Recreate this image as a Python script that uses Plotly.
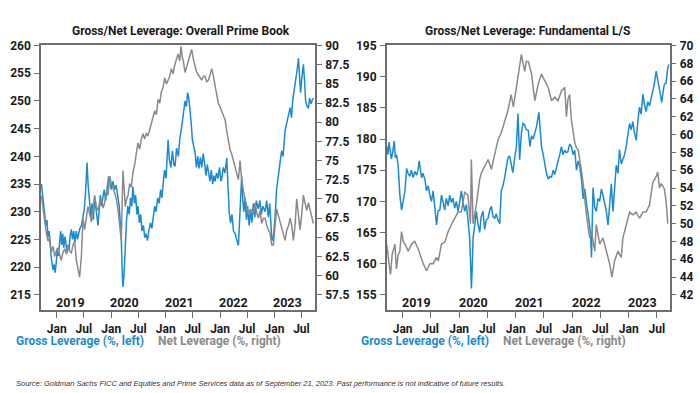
import plotly.graph_objects as go

# ---------------- DATA ----------------
# Left panel: Overall Prime Book
prime_gross_dates = [
    "2018-09-20","2018-09-28","2018-10-06","2018-10-12","2018-10-20","2018-10-27","2018-11-03","2018-11-10",
    "2018-11-17","2018-11-24","2018-12-01","2018-12-07","2018-12-14","2018-12-21","2018-12-29","2019-01-05",
    "2019-01-12","2019-01-20","2019-01-27","2019-02-03","2019-02-10","2019-02-17","2019-02-24","2019-03-03",
    "2019-03-10","2019-03-17","2019-03-24","2019-03-31","2019-04-09","2019-04-16","2019-04-25","2019-05-02",
    "2019-05-12","2019-05-20","2019-05-28","2019-06-05","2019-06-15","2019-06-25","2019-07-05","2019-07-13",
    "2019-07-23","2019-07-30","2019-08-10","2019-08-18","2019-08-25","2019-09-03","2019-09-12","2019-09-20",
    "2019-09-28","2019-10-05","2019-10-12","2019-10-20","2019-10-28","2019-11-05","2019-11-15","2019-11-25",
    "2019-12-05","2019-12-15","2019-12-24","2020-01-03","2020-01-12","2020-01-24","2020-02-03","2020-02-14",
    "2020-02-24","2020-03-02","2020-03-09","2020-03-14","2020-03-20","2020-03-27","2020-04-05","2020-04-13",
    "2020-04-22","2020-05-01","2020-05-10","2020-05-18","2020-05-26","2020-06-05","2020-06-13","2020-06-22",
    "2020-06-29","2020-07-08","2020-07-17","2020-07-26","2020-08-05","2020-08-13","2020-08-22","2020-09-01",
    "2020-09-10","2020-09-20","2020-09-30","2020-10-09","2020-10-19","2020-10-28","2020-11-08","2020-11-18",
    "2020-11-28","2020-12-06","2020-12-14","2020-12-24","2021-01-03","2021-01-10","2021-01-17","2021-01-25",
    "2021-02-05","2021-02-15","2021-02-25","2021-03-05","2021-03-15","2021-03-27","2021-04-05","2021-04-18",
    "2021-04-28","2021-05-11","2021-05-20","2021-05-28","2021-06-05","2021-06-13","2021-06-21","2021-06-29",
    "2021-07-08","2021-07-17","2021-07-26","2021-08-04","2021-08-12","2021-08-22","2021-08-31","2021-09-10",
    "2021-09-20","2021-09-28","2021-10-07","2021-10-15","2021-10-25","2021-11-03","2021-11-12","2021-11-20",
    "2021-11-28","2021-12-08","2021-12-18","2021-12-28","2022-01-06","2022-01-12","2022-01-22","2022-02-03",
    "2022-02-15","2022-02-24","2022-03-03","2022-03-12","2022-03-22","2022-04-01","2022-04-12","2022-04-22",
    "2022-05-04","2022-05-12","2022-05-20","2022-05-26","2022-06-03","2022-06-10","2022-06-18","2022-06-27",
    "2022-07-05","2022-07-15","2022-07-24","2022-08-02","2022-08-12","2022-08-22","2022-09-01","2022-09-15",
    "2022-09-25","2022-10-05","2022-10-15","2022-10-30","2022-11-10","2022-11-20","2022-11-30","2022-12-08",
    "2022-12-14","2022-12-22","2023-01-05","2023-01-15","2023-01-25","2023-02-08","2023-02-18","2023-02-28",
    "2023-03-13","2023-03-25","2023-04-05","2023-04-16","2023-04-25","2023-05-05","2023-05-19","2023-05-28",
    "2023-06-04","2023-06-11","2023-06-18","2023-06-25","2023-07-03","2023-07-14","2023-07-21","2023-07-29",
    "2023-08-08","2023-08-17","2023-08-25","2023-09-04","2023-09-13","2023-09-21",
]
prime_gross = [
    235.0,233.0,231.0,229.5,227.5,228.5,225.5,226.5,
    223.0,222.0,220.5,219.5,220.5,219.0,221.0,223.5,
    222.0,225.0,226.5,224.0,226.0,223.5,225.5,224.5,
    222.5,224.0,223.0,225.5,226.8,225.0,226.5,224.5,
    226.5,225.0,226.0,227.0,227.5,229.0,230.5,233.5,
    238.9,235.0,231.0,229.0,231.5,228.5,232.5,230.0,
    229.0,227.5,230.5,233.0,231.0,232.5,234.0,232.0,
    234.5,236.4,235.0,234.0,235.5,234.0,234.8,233.0,
    231.0,228.0,225.0,220.0,216.4,218.5,225.0,228.5,
    231.0,229.5,232.5,231.0,234.5,231.5,233.0,229.5,
    231.0,228.0,229.5,226.5,227.5,225.3,226.0,224.8,
    226.5,228.0,227.0,229.5,231.0,230.0,232.5,231.5,
    234.0,232.5,235.0,237.5,236.0,240.0,243.0,239.5,
    238.0,241.0,238.5,238.2,241.5,240.0,243.0,245.3,
    247.5,250.0,249.0,251.5,250.5,248.5,246.0,243.0,
    241.5,240.7,238.0,240.0,237.8,239.8,238.0,240.5,
    238.5,236.5,238.5,237.0,235.5,237.5,235.0,236.5,
    235.5,237.0,236.0,238.0,235.5,236.0,238.0,237.0,
    239.7,234.0,230.0,228.0,229.5,226.5,226.0,225.0,
    223.9,228.5,234.0,236.4,232.0,230.0,232.5,228.5,
    231.0,227.5,230.5,228.0,231.5,229.0,232.0,230.5,
    232.0,229.5,231.0,230.0,232.0,229.0,231.5,228.0,
    225.0,224.8,229.0,234.0,236.5,239.0,241.0,240.0,
    244.6,246.0,247.5,248.8,247.0,250.5,253.0,254.5,
    256.0,257.7,253.0,251.5,254.0,256.6,254.0,250.0,
    249.0,248.7,250.5,249.5,250.3,250.5,
]

prime_net_dates = [
    "2018-09-20","2018-10-01","2018-10-12","2018-10-23","2018-11-03","2018-11-14","2018-11-25","2018-12-07",
    "2018-12-18","2018-12-29","2019-01-09","2019-01-20","2019-01-31","2019-02-11","2019-02-23","2019-03-06",
    "2019-03-17","2019-03-28","2019-04-09","2019-04-20","2019-05-01","2019-05-12","2019-05-23","2019-06-03",
    "2019-06-15","2019-06-26","2019-07-07","2019-07-18","2019-07-29","2019-08-10","2019-08-21","2019-09-01",
    "2019-09-12","2019-09-23","2019-10-05","2019-10-16","2019-10-27","2019-11-07","2019-11-18","2019-11-30",
    "2019-12-11","2019-12-22","2020-01-02","2020-01-13","2020-01-24","2020-02-05","2020-02-16","2020-02-27",
    "2020-03-09","2020-03-20","2020-03-28","2020-04-05","2020-04-14","2020-04-23","2020-05-04","2020-05-15",
    "2020-05-26","2020-06-07","2020-06-18","2020-06-29","2020-07-10","2020-07-21","2020-08-02","2020-08-13",
    "2020-08-24","2020-09-04","2020-09-15","2020-09-27","2020-10-08","2020-10-19","2020-10-30","2020-11-11",
    "2020-11-22","2020-12-03","2020-12-14","2020-12-25","2021-01-06","2021-01-17","2021-01-28","2021-02-08",
    "2021-02-19","2021-03-03","2021-03-14","2021-03-25","2021-04-05","2021-04-14","2021-04-22","2021-04-29",
    "2021-05-11","2021-05-22","2021-06-02","2021-06-13","2021-06-24","2021-07-06","2021-07-17","2021-07-28",
    "2021-08-08","2021-08-20","2021-08-31","2021-09-11","2021-09-22","2021-10-03","2021-10-15","2021-10-26",
    "2021-11-06","2021-11-17","2021-11-28","2021-12-10","2021-12-21","2022-01-01","2022-01-12","2022-01-24",
    "2022-02-04","2022-02-15","2022-02-26","2022-03-09","2022-03-21","2022-04-01","2022-04-12","2022-04-23",
    "2022-05-04","2022-05-15","2022-05-26","2022-06-07","2022-06-18","2022-06-29","2022-07-10","2022-07-22",
    "2022-08-02","2022-08-13","2022-08-24","2022-09-04","2022-09-15","2022-09-26","2022-10-07","2022-10-19",
    "2022-10-30","2022-11-10","2022-11-21","2022-12-02","2022-12-14","2022-12-25","2023-01-05","2023-01-16",
    "2023-01-28","2023-02-08","2023-02-19","2023-03-02","2023-03-13","2023-03-25","2023-04-05","2023-04-16",
    "2023-04-27","2023-05-08","2023-05-19","2023-05-30","2023-06-11","2023-06-22","2023-07-03","2023-07-14",
    "2023-07-25","2023-08-06","2023-08-17","2023-08-28","2023-09-08","2023-09-19",
]
prime_net = [
    70.4,68.5,67.0,65.5,64.5,65.0,63.0,63.8,
    62.5,63.2,63.5,62.8,62.0,63.0,63.5,62.8,
    64.0,63.2,63.0,64.0,64.5,62.0,61.0,59.8,
    62.5,67.5,66.0,67.5,69.0,68.0,67.0,68.5,
    70.5,69.0,68.5,69.5,70.0,68.8,69.5,71.0,
    70.5,73.0,72.0,71.5,70.8,70.0,68.5,66.5,
    64.6,73.7,71.0,69.0,70.0,70.5,72.0,71.5,
    73.5,74.5,76.0,77.3,76.5,77.8,78.5,77.8,
    78.6,78.2,79.0,80.0,80.5,81.5,81.0,83.0,
    82.5,84.0,84.5,85.8,85.0,85.5,86.0,87.0,
    86.3,87.5,88.2,88.9,88.0,89.9,88.5,88.0,
    86.5,87.2,87.8,88.5,89.5,88.2,87.5,86.5,
    86.2,85.8,85.5,86.0,86.0,85.3,85.5,86.2,
    87.0,86.0,84.9,83.5,82.4,82.0,81.5,81.0,
    80.3,78.8,77.5,76.4,75.8,75.0,74.0,73.5,
    72.5,75.0,72.5,71.0,70.0,69.1,68.0,68.5,
    68.5,68.0,69.5,68.2,67.5,68.5,66.8,67.5,
    67.5,66.5,66.0,65.5,64.0,64.0,66.5,68.7,
    67.8,67.0,66.0,65.5,64.6,66.0,66.5,67.5,
    66.5,64.6,66.5,70.0,68.0,66.0,68.0,70.5,
    69.5,68.5,69.5,68.5,67.8,66.8,
]

# Right panel: Fundamental L/S
fund_gross_dates = [
    "2018-09-20","2018-09-28","2018-10-05","2018-10-11","2018-10-20","2018-10-28","2018-11-08","2018-11-15",
    "2018-11-22","2018-12-03","2018-12-09","2018-12-14","2018-12-25","2019-01-05","2019-01-16","2019-01-27",
    "2019-02-05","2019-02-17","2019-02-26","2019-03-10","2019-03-20","2019-04-01","2019-04-10","2019-04-18",
    "2019-05-03","2019-05-12","2019-05-25","2019-06-04","2019-06-15","2019-06-26","2019-07-06","2019-07-17",
    "2019-07-28","2019-08-08","2019-08-18","2019-08-29","2019-09-09","2019-09-20","2019-09-30","2019-10-10",
    "2019-10-22","2019-11-01","2019-11-12","2019-11-22","2019-12-03","2019-12-14","2019-12-25","2020-01-05",
    "2020-01-15","2020-01-25","2020-02-06","2020-02-17","2020-02-27","2020-03-09","2020-03-15","2020-03-20",
    "2020-03-25","2020-03-31","2020-04-10","2020-04-21","2020-05-01","2020-05-13","2020-05-22","2020-06-03",
    "2020-06-14","2020-06-24","2020-07-06","2020-07-16","2020-07-27","2020-08-07","2020-08-18","2020-08-28",
    "2020-09-08","2020-09-19","2020-09-29","2020-10-10","2020-10-21","2020-11-01","2020-11-11","2020-11-22",
    "2020-12-03","2020-12-13","2020-12-25","2021-01-05","2021-01-15","2021-01-26","2021-02-06","2021-02-17",
    "2021-02-27","2021-03-10","2021-03-23","2021-04-02","2021-04-13","2021-04-23","2021-05-04","2021-05-15",
    "2021-05-30","2021-06-08","2021-06-16","2021-06-27","2021-07-08","2021-07-18","2021-07-29","2021-08-10",
    "2021-08-20","2021-08-30","2021-09-10","2021-09-20","2021-10-01","2021-10-12","2021-10-23","2021-11-02",
    "2021-11-13","2021-11-24","2021-12-04","2021-12-15","2021-12-26","2022-01-06","2022-01-17","2022-01-28",
    "2022-02-08","2022-02-19","2022-03-01","2022-03-12","2022-03-23","2022-04-02","2022-04-13","2022-04-23",
    "2022-04-30","2022-05-05","2022-05-15","2022-05-26","2022-06-05","2022-06-16","2022-06-27","2022-07-08",
    "2022-07-18","2022-07-29","2022-08-09","2022-08-20","2022-08-30","2022-09-10","2022-09-21","2022-10-01",
    "2022-10-12","2022-10-23","2022-11-02","2022-11-13","2022-11-24","2022-12-05","2022-12-15","2022-12-26",
    "2023-01-06","2023-01-17","2023-01-27","2023-02-07","2023-02-18","2023-03-01","2023-03-11","2023-03-22",
    "2023-04-02","2023-04-12","2023-04-23","2023-05-04","2023-05-15","2023-05-25","2023-06-05","2023-06-16",
    "2023-06-27","2023-07-07","2023-07-18","2023-07-29","2023-08-02","2023-08-10","2023-08-19","2023-08-30",
    "2023-09-10","2023-09-19",
]
fund_gross = [
    178.8,177.5,179.5,178.3,176.8,177.8,179.7,177.0,
    177.5,175.8,173.0,171.0,168.6,170.5,171.7,175.3,
    174.5,174.0,175.0,173.8,174.8,174.2,175.0,176.5,
    173.8,174.5,173.5,171.7,172.5,171.0,170.0,171.7,
    169.0,166.2,168.5,168.6,171.0,169.5,168.6,170.5,
    169.3,171.0,169.8,170.5,168.9,170.0,168.4,170.0,
    171.7,170.0,168.4,169.5,167.3,164.1,160.0,156.0,
    159.0,164.1,166.0,168.4,166.5,165.0,167.5,168.4,
    165.5,167.0,167.3,168.5,169.2,167.5,167.3,168.0,
    167.0,166.4,171.7,172.5,173.8,175.5,177.0,177.3,
    176.0,174.6,177.0,178.8,184.1,176.7,181.0,182.5,
    182.3,181.5,181.4,178.8,180.5,180.0,181.0,182.0,
    184.3,180.5,178.8,177.5,175.6,174.5,173.6,174.0,
    173.9,175.0,174.3,175.5,176.5,177.5,178.8,177.5,
    178.2,177.8,178.0,179.2,178.8,177.5,178.2,175.0,
    176.5,175.5,173.6,170.4,172.0,169.8,168.0,166.2,
    164.0,161.0,172.2,169.0,168.4,170.5,170.0,172.0,
    171.0,169.5,168.4,166.2,169.0,172.8,168.4,171.5,
    175.8,174.5,178.3,176.0,176.8,177.5,178.8,180.5,
    182.5,181.5,182.8,181.0,179.8,183.0,185.1,184.0,
    187.2,185.5,184.4,186.0,185.3,186.5,187.8,189.0,
    190.9,189.5,187.5,186.5,185.9,187.5,188.8,189.0,
    191.5,192.0,
]

fund_net_dates = [
    "2018-09-20","2018-09-30","2018-10-11","2018-10-15","2018-10-25","2018-11-12","2018-11-22","2018-12-03",
    "2018-12-14","2018-12-25","2019-01-05","2019-01-16","2019-02-06","2019-02-27","2019-03-20","2019-04-10",
    "2019-05-03","2019-05-14","2019-06-04","2019-06-26","2019-07-17","2019-08-08","2019-08-19","2019-09-09",
    "2019-09-30","2019-10-22","2019-11-12","2019-12-03","2019-12-25","2020-01-15","2020-02-06","2020-02-27",
    "2020-03-14","2020-03-20","2020-03-31","2020-04-21","2020-05-13","2020-05-24","2020-06-14","2020-07-06",
    "2020-07-27","2020-08-18","2020-09-08","2020-09-29","2020-10-21","2020-11-11","2020-12-02","2020-12-16",
    "2021-01-05","2021-01-26","2021-02-06","2021-02-27","2021-03-10","2021-03-23","2021-04-13","2021-04-23",
    "2021-05-04","2021-05-26","2021-06-16","2021-07-08","2021-07-29","2021-08-20","2021-09-10","2021-10-01",
    "2021-10-23","2021-11-13","2021-11-24","2021-12-04","2021-12-15","2021-12-26","2022-01-17","2022-01-28",
    "2022-02-08","2022-02-19","2022-03-12","2022-04-02","2022-04-23","2022-05-05","2022-05-26","2022-06-05",
    "2022-06-27","2022-07-18","2022-08-09","2022-08-30","2022-09-14","2022-10-01","2022-10-23","2022-11-13",
    "2022-11-24","2022-12-15","2023-01-06","2023-01-27","2023-02-18","2023-03-11","2023-04-02","2023-04-23",
    "2023-05-15","2023-06-05","2023-06-27","2023-07-07","2023-07-18","2023-07-29","2023-08-19","2023-08-30",
    "2023-09-10",
]
fund_net = [
    47.7,46.0,44.7,44.3,46.5,47.7,44.9,46.5,
    46.9,49.1,48.0,47.7,46.9,47.7,48.0,47.2,
    46.0,45.5,44.7,45.5,45.5,46.2,45.8,47.7,
    47.9,49.1,49.9,50.6,51.3,51.3,53.5,53.2,
    50.0,57.2,50.0,52.1,55.0,55.7,56.5,57.2,
    56.1,57.7,59.4,60.2,61.6,62.7,64.5,63.1,
    65.3,67.9,69.0,67.1,68.2,68.2,66.8,65.3,
    63.8,65.7,66.8,66.0,65.3,63.8,64.2,63.8,
    64.9,65.3,62.0,64.0,64.5,61.7,59.1,58.5,
    58.3,57.1,54.6,51.0,48.4,49.1,46.9,49.9,
    47.7,48.4,46.9,45.5,44.0,45.8,46.9,46.2,
    48.4,49.8,51.3,51.0,51.3,50.6,51.3,51.3,
    52.1,54.6,55.3,55.8,54.0,54.5,53.9,52.5,
    50.0,
]

titles = ["Gross/Net Leverage: Overall Prime Book", "Gross/Net Leverage: Fundamental L/S"]
month_tick_vals = ["2019-01-01","2019-07-01","2020-01-01","2020-07-01","2021-01-01","2021-07-01",
                   "2022-01-01","2022-07-01","2023-01-01","2023-07-01"]
month_tick_text = ["Jan","Jul"] * 5
year_labels = ["2019","2020","2021","2022","2023"]
year_label_dates = ["2019-04-01","2020-04-01","2021-04-01","2022-04-01","2023-04-01"]
legend_texts = ["Gross Leverage (%, left)", "Net Leverage (%, right)"]
source_text = ("Source: Goldman Sachs FICC and Equities and Prime Services data as of September 21, 2023. "
               "Past performance is not indicative of future results.")

# ---------------- STYLE ----------------
BLUE = "#1a8ad2"
GRAY = "#8a8a8a"
AXC = "#6e6e6e"
TXT = "#1a1a1a"
FONT = "Roboto, Liberation Sans, sans-serif"
W, H = 700, 393

def px_x(p):
    return p / W

def px_y(p):
    return 1 - p / H

fig = go.Figure()
fig.add_trace(go.Scatter(x=prime_gross_dates, y=prime_gross, mode="lines",
                         line=dict(color=BLUE, width=1.5), xaxis="x", yaxis="y"))
fig.add_trace(go.Scatter(x=prime_net_dates, y=prime_net, mode="lines",
                         line=dict(color=GRAY, width=1.5), xaxis="x", yaxis="y2"))
fig.add_trace(go.Scatter(x=fund_gross_dates, y=fund_gross, mode="lines",
                         line=dict(color=BLUE, width=1.5), xaxis="x2", yaxis="y3"))
fig.add_trace(go.Scatter(x=fund_net_dates, y=fund_net, mode="lines",
                         line=dict(color=GRAY, width=1.5), xaxis="x2", yaxis="y4"))

tickfont = dict(family=FONT, size=12, color=TXT, weight="bold")
ydom = [px_y(308), px_y(39)]

def xax(dom, rng):
    return dict(domain=dom, type="date", range=rng, showgrid=False, zeroline=False,
                showline=True, linecolor=AXC, linewidth=1.5, mirror=True,
                ticks="outside", ticklen=7, tickcolor=AXC, tickwidth=1.2,
                tickvals=month_tick_vals, ticktext=month_tick_text, tickfont=tickfont)

def yax(anchor, rng, dtick, side="left", overlay=None):
    d = dict(anchor=anchor, range=rng, dtick=dtick, tick0=0, showgrid=False, zeroline=False,
             showline=True, linecolor=AXC, linewidth=1.5, side=side,
             ticks="outside", ticklen=5, tickcolor=AXC, tickwidth=1.2, tickfont=tickfont,
             ticklabelstandoff=1)
    if overlay:
        d["overlaying"] = overlay
    else:
        d["domain"] = ydom
    return d

fig.update_layout(
    width=W, height=H, margin=dict(l=0, r=0, t=0, b=0),
    paper_bgcolor="white", plot_bgcolor="white", showlegend=False,
    xaxis=xax([px_x(41), px_x(315)], ["2018-09-17", "2023-09-30"]),
    xaxis2=xax([px_x(386.7), px_x(669.5)], ["2018-09-20", "2023-09-21"]),
    yaxis=yax("x", [212.34, 260.05], 5),
    yaxis2=yax("x", [55.58, 90.04], 2.5, side="right", overlay="y"),
    yaxis3=yax("x2", [152.64, 195.05], 5),
    yaxis4=yax("x2", [40.35, 70.03], 2, side="right", overlay="y3"),
)

ann = []
for xref, cx, title in [("x", 181, titles[0]), ("x2", 527, titles[1])]:
    ann.append(dict(text=title, xref="paper", yref="paper", x=px_x(cx), y=px_y(24),
                    xanchor="center", yanchor="middle", showarrow=False,
                    font=dict(family=FONT, size=12, color=TXT, weight="bold")))
    for lab, d in zip(year_labels, year_label_dates):
        ann.append(dict(text=lab, xref=xref, yref="paper", x=d, y=px_y(301),
                        xanchor="center", yanchor="middle", showarrow=False,
                        font=dict(family=FONT, size=12.5, color=TXT, weight="bold")))

for gx, nx in [(15, 157), (360, 502)]:
    ann.append(dict(text=legend_texts[0], xref="paper", yref="paper", x=px_x(gx), y=px_y(340),
                    xanchor="left", yanchor="middle", showarrow=False, borderpad=0,
                    font=dict(family=FONT, size=12, color=BLUE, weight="bold")))
    ann.append(dict(text=legend_texts[1], xref="paper", yref="paper", x=px_x(nx), y=px_y(340),
                    xanchor="left", yanchor="middle", showarrow=False, borderpad=0,
                    font=dict(family=FONT, size=12, color=GRAY, weight="bold")))

ann.append(dict(text="<i>" + source_text + "</i>", xref="paper", yref="paper", x=px_x(15), y=px_y(383),
                xanchor="left", yanchor="middle", showarrow=False, borderpad=0,
                font=dict(family="Liberation Sans, Arial, sans-serif", size=7.5, color="#333333")))

fig.update_layout(annotations=ann)
fig.write_html("out.html", config={"displayModeBar": False},
               post_script="document.body.style.margin='0';document.body.style.overflow='hidden';")
